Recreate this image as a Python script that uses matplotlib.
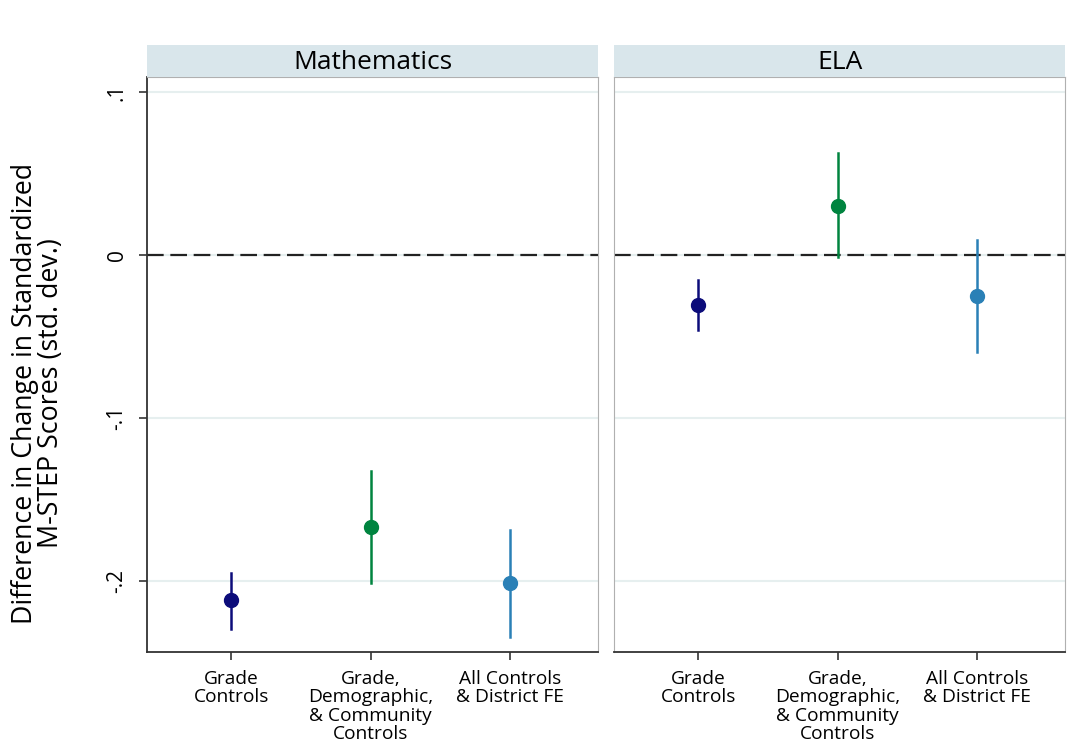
import numpy as np
import matplotlib.pyplot as plt

plt.rcParams['font.family'] = ['Open Sans', 'DejaVu Sans']

# data
panels = ['Mathematics', 'ELA']
labels = ['Grade\nControls', 'Grade,\nDemographic,\n& Community\nControls', 'All Controls\n& District FE']
est = {'Mathematics': [-0.2115, -0.167, -0.2015], 'ELA': [-0.0305, 0.030, -0.025]}
lo = {'Mathematics': [-0.2295, -0.201, -0.2345], 'ELA': [-0.046, -0.0015, -0.0595]}
hi = {'Mathematics': [-0.195, -0.1325, -0.169], 'ELA': [-0.0153, 0.0626, 0.0092]}
colors = ['#0c0c7a', '#00843f', '#2a80b6']
yticks = [0.1, 0, -0.1, -0.2]
yticklabels = ['.1', '0', '-.1', '-.2']

fig = plt.figure(figsize=(10.7, 7.4), dpi=100)
W, H = 1070, 740
x = np.arange(1, 4)
for i, name in enumerate(panels):
    left = [147, 614][i]
    ax = fig.add_axes([left / W, 1 - 652 / H, 451 / W, 575 / H])
    ax.set_xlim(0.395, 3.63)
    ax.set_ylim(-0.2436, 0.1092)
    for yv in yticks:
        ax.axhline(yv, color='#e6efef', lw=1.5, zorder=0)
    ax.axhline(0, color='#222222', lw=1.6, ls=(0, (7.5, 3)), zorder=1)
    for j in range(3):
        ax.plot([x[j], x[j]], [lo[name][j], hi[name][j]], color=colors[j], lw=1.8, zorder=2)
        ax.plot(x[j], est[name][j], 'o', color=colors[j], ms=10, zorder=3)
    ax.set_xticks(x)
    ax.set_xticklabels(labels, fontsize=13.8, linespacing=1.03)
    ax.tick_params(axis='x', length=6, width=1.2, color='#333333', pad=7)
    for s in ['top', 'right']:
        ax.spines[s].set_color('#b0b0b0')
    ax.spines['bottom'].set_color('#333333')
    ax.spines['bottom'].set_linewidth(1.3)
    if i == 0:
        ax.set_yticks(yticks)
        ax.set_yticklabels(yticklabels, rotation=90, va='center', fontsize=15)
        ax.tick_params(axis='y', length=6, width=1.2, color='#333333', pad=8)
        ax.spines['left'].set_color('#333333')
        ax.spines['left'].set_linewidth(1.3)
        ax.set_ylabel('Difference in Change in Standardized\nM-STEP Scores (std. dev.)',
                      fontsize=19.3, linespacing=0.92)
        ax.yaxis.set_label_coords(-0.182, 0.45)
    else:
        ax.set_yticks([])
        ax.spines['left'].set_color('#b0b0b0')
    # strip header
    sax = fig.add_axes([left / W, 1 - 77 / H, 451 / W, 32 / H])
    sax.set_facecolor('#d9e6eb')
    sax.set_xticks([])
    sax.set_yticks([])
    for s in sax.spines.values():
        s.set_visible(False)
    sax.text(0.5, 0.45, name, ha='center', va='center', fontsize=19, transform=sax.transAxes)

fig.savefig('out.png', dpi=100, facecolor='white')
